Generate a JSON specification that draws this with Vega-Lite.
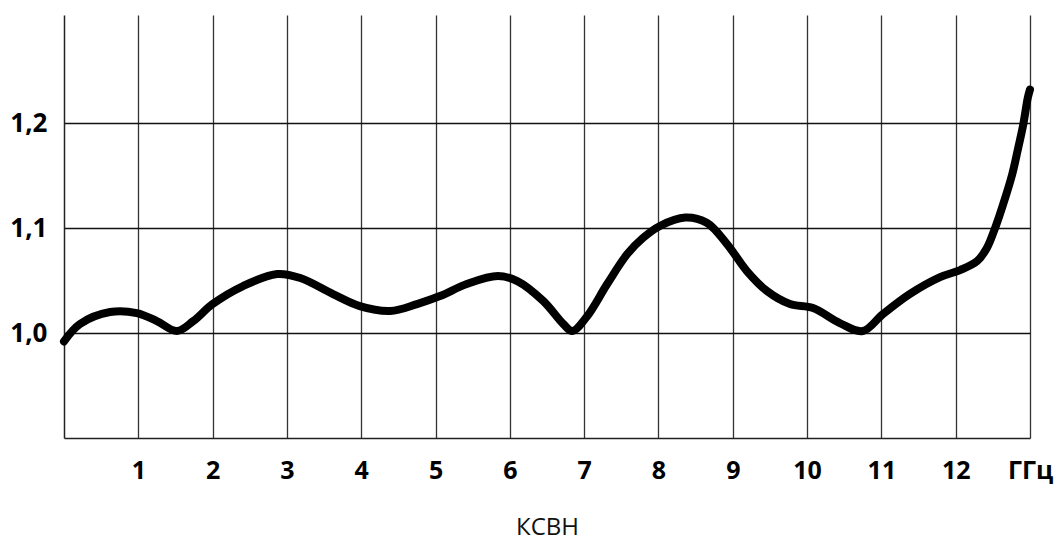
{
  "$schema": "https://vega.github.io/schema/vega-lite/v6.json",
  "width": 966,
  "height": 423,
  "autosize": {"type": "none"},
  "padding": {"left": 64, "top": 15, "right": 28, "bottom": 105},
  "background": "white",
  "config": {
    "view": {"stroke": null},
    "font": "Open Sans"
  },
  "data": {
    "values": [
      {"f": 0.0, "v": 0.992},
      {"f": 0.215, "v": 1.0086},
      {"f": 0.62, "v": 1.020},
      {"f": 0.98, "v": 1.019},
      {"f": 1.25, "v": 1.0114},
      {"f": 1.52, "v": 1.0019},
      {"f": 1.74, "v": 1.0114},
      {"f": 2.0, "v": 1.0276},
      {"f": 2.41, "v": 1.0448},
      {"f": 2.87, "v": 1.0562},
      {"f": 3.18, "v": 1.0524},
      {"f": 3.62, "v": 1.0371},
      {"f": 3.98, "v": 1.0257},
      {"f": 4.39, "v": 1.021},
      {"f": 4.75, "v": 1.0276},
      {"f": 5.06, "v": 1.0352},
      {"f": 5.42, "v": 1.0467},
      {"f": 5.84, "v": 1.0543},
      {"f": 6.10, "v": 1.0495},
      {"f": 6.45, "v": 1.0305},
      {"f": 6.72, "v": 1.0086},
      {"f": 6.84, "v": 1.0019},
      {"f": 7.04, "v": 1.016},
      {"f": 7.31, "v": 1.0467},
      {"f": 7.58, "v": 1.0752},
      {"f": 7.79, "v": 1.0905},
      {"f": 8.02, "v": 1.102},
      {"f": 8.36, "v": 1.110},
      {"f": 8.65, "v": 1.105},
      {"f": 8.92, "v": 1.085},
      {"f": 9.19, "v": 1.059},
      {"f": 9.46, "v": 1.040},
      {"f": 9.77, "v": 1.0276},
      {"f": 10.08, "v": 1.0238},
      {"f": 10.44, "v": 1.0095},
      {"f": 10.75, "v": 1.0019},
      {"f": 11.02, "v": 1.018},
      {"f": 11.38, "v": 1.0371},
      {"f": 11.79, "v": 1.0533},
      {"f": 12.06, "v": 1.060},
      {"f": 12.29, "v": 1.0686},
      {"f": 12.42, "v": 1.081},
      {"f": 12.53, "v": 1.100},
      {"f": 12.64, "v": 1.1229},
      {"f": 12.76, "v": 1.151},
      {"f": 12.84, "v": 1.176},
      {"f": 12.91, "v": 1.199},
      {"f": 12.97, "v": 1.224},
      {"f": 13.0, "v": 1.232}
    ]
  },
  "mark": {"type": "line", "color": "black", "strokeWidth": 8, "strokeCap": "round", "strokeJoin": "round", "interpolate": "catmull-rom", "clip": false},
  "encoding": {
    "x": {
      "field": "f",
      "type": "quantitative",
      "scale": {"domain": [0, 13], "nice": false, "zero": false},
      "axis": {
        "values": [1, 2, 3, 4, 5, 6, 7, 8, 9, 10, 11, 12, 13],
        "labelExpr": "datum.value == 13 ? 'ГГц' : datum.label",
        "labelFont": "Open Sans",
        "labelFontSize": 25,
        "labelFontWeight": "bold",
        "labelColor": "black",
        "labelPadding": 20,
        "labelFlush": false,
        "ticks": false,
        "domain": true,
        "domainColor": "#222",
        "domainWidth": 1.5,
        "grid": true,
        "gridColor": "#333",
        "gridWidth": 1.3,
        "title": "КСВН",
        "titleFont": "Open Sans",
        "titleFontSize": 24,
        "titleFontWeight": "normal",
        "titleColor": "#111",
        "titlePadding": 32
      }
    },
    "y": {
      "field": "v",
      "type": "quantitative",
      "scale": {"domain": [0.9, 1.303], "nice": false, "zero": false},
      "axis": {
        "values": [1.0, 1.1, 1.2],
        "labelExpr": "replace(format(datum.value, '.1f'), '.', ',')",
        "labelFont": "Open Sans",
        "labelFontSize": 26,
        "labelFontWeight": "bold",
        "labelColor": "black",
        "labelPadding": 17,
        "ticks": false,
        "domain": true,
        "domainColor": "#222",
        "domainWidth": 1.5,
        "grid": true,
        "gridColor": "#111",
        "gridWidth": 1.3,
        "title": null
      }
    }
  }
}
